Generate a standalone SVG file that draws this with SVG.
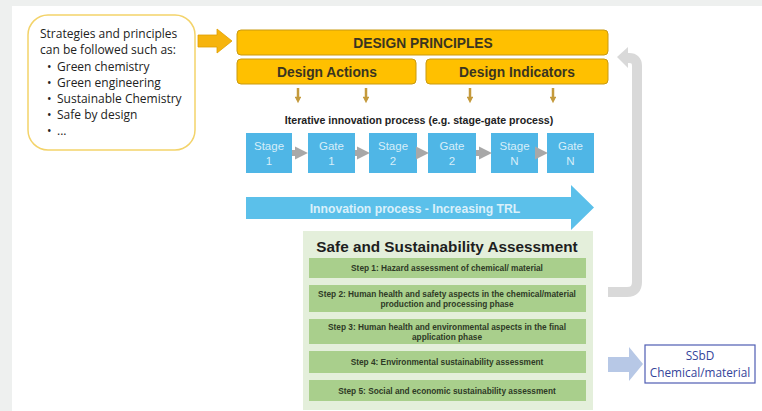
<svg xmlns="http://www.w3.org/2000/svg" width="762" height="411" viewBox="0 0 762 411">
  <defs>
    <style>
      .gold { fill: #ffc000; stroke: #c99a10; stroke-width: 1; }
      .gold-t { font-family: "Liberation Sans", Arial, sans-serif; font-weight: bold; font-size: 13.8px; fill: #3a3520; text-anchor: middle; }
      .blue { fill: #4fb6e6; }
      .blue-t { font-family: "Liberation Sans", Arial, sans-serif; font-size: 11.5px; fill: #d6eef9; text-anchor: middle; }
      .step { fill: #a9cf8c; }
      .step-t { font-family: "Liberation Sans", Arial, sans-serif; font-size: 8.3px; font-weight: bold; fill: #2e3a26; text-anchor: middle; }
      .list-t { font-family: "Open Sans", "Liberation Sans", sans-serif; font-size: 12px; fill: #222; }
      .flow { stroke: #a8a8a8; stroke-width: 6; fill: none; }
      .drop { stroke: #c49a3c; stroke-width: 2.5; fill: none; }
    </style>
    <marker id="grayhead" viewBox="0 0 10 10" refX="4" refY="5" markerWidth="2.2" markerHeight="2.6" orient="auto" markerUnits="strokeWidth">
      <path d="M0,0 L10,5 L0,10 z" fill="#a8a8a8"/>
    </marker>
    <marker id="goldhead" viewBox="0 0 10 10" refX="5" refY="5" markerWidth="3" markerHeight="2.6" orient="auto" markerUnits="strokeWidth">
      <path d="M0,0 L10,5 L0,10 z" fill="#c49a3c"/>
    </marker>
  </defs>

  <!-- page backdrop -->
  <rect x="0" y="0" width="762" height="411" fill="#eef0ef"/>
  <rect x="12" y="6" width="750" height="405" fill="#ffffff"/>

  <!-- strategies call-out -->
  <g id="strategies">
    <rect x="28" y="15" width="167" height="135" rx="20" ry="20" fill="#ffffff" stroke="#f3d36a" stroke-width="1.5"/>
    <text class="list-t" x="40" y="38">Strategies and principles</text>
    <text class="list-t" x="40" y="54">can be followed such as:</text>
    <text class="list-t" x="47" y="71">•</text><text class="list-t" x="57" y="71">Green chemistry</text>
    <text class="list-t" x="47" y="87">•</text><text class="list-t" x="57" y="87">Green engineering</text>
    <text class="list-t" x="47" y="103">•</text><text class="list-t" x="57" y="103">Sustainable Chemistry</text>
    <text class="list-t" x="47" y="119">•</text><text class="list-t" x="57" y="119">Safe by design</text>
    <text class="list-t" x="47" y="135">•</text><text class="list-t" x="57" y="135">...</text>
  </g>

  <!-- design principles block -->
  <g id="design-principles">
    <rect class="gold" x="237" y="30" width="371" height="25" rx="4"/>
    <text class="gold-t" x="423" y="48">DESIGN PRINCIPLES</text>
  </g>
  <g id="design-actions">
    <rect class="gold" x="237" y="59" width="179" height="25" rx="4"/>
    <text class="gold-t" x="327" y="77">Design Actions</text>
  </g>
  <g id="design-indicators">
    <rect class="gold" x="426" y="59" width="182" height="25" rx="4"/>
    <text class="gold-t" x="517" y="77">Design Indicators</text>
  </g>

  <text x="419" y="124" font-family="Liberation Sans, Arial, sans-serif" font-size="10.6" font-weight="bold" fill="#222" text-anchor="middle">Iterative innovation process (e.g. stage-gate process)</text>

  <!-- stage-gate sequence -->
  <g id="stage-1">
    <rect class="blue" x="246" y="133" width="46" height="40"/>
    <text class="blue-t" x="269" y="150">Stage</text>
    <text class="blue-t" x="269" y="165">1</text>
  </g>
  <g id="gate-1">
    <rect class="blue" x="308" y="133" width="47" height="40"/>
    <text class="blue-t" x="331.5" y="150">Gate</text>
    <text class="blue-t" x="331.5" y="165">1</text>
  </g>
  <g id="stage-2">
    <rect class="blue" x="369" y="133" width="48" height="40"/>
    <text class="blue-t" x="393" y="150">Stage</text>
    <text class="blue-t" x="393" y="165">2</text>
  </g>
  <g id="gate-2">
    <rect class="blue" x="428" y="133" width="48" height="40"/>
    <text class="blue-t" x="452" y="150">Gate</text>
    <text class="blue-t" x="452" y="165">2</text>
  </g>
  <g id="stage-n">
    <rect class="blue" x="491" y="133" width="47" height="40"/>
    <text class="blue-t" x="514.5" y="150">Stage</text>
    <text class="blue-t" x="514.5" y="165">N</text>
  </g>
  <g id="gate-n">
    <rect class="blue" x="547" y="133" width="47" height="40"/>
    <text class="blue-t" x="570.5" y="150">Gate</text>
    <text class="blue-t" x="570.5" y="165">N</text>
  </g>

  <!-- innovation process arrow -->
  <g id="innovation-arrow">
    <path d="M246,197 L571,197 L571,185 L594,207.5 L571,230 L571,219 L246,219 Z" fill="#5bc0ea"/>
    <text x="415" y="212.5" font-family="Liberation Sans, Arial, sans-serif" font-size="12.2" font-weight="bold" fill="#d9f0fa" text-anchor="middle">Innovation process - Increasing TRL</text>
  </g>

  <!-- assessment panel -->
  <g id="assessment">
    <rect x="303" y="231" width="290" height="179" fill="#e4efdb"/>
    <text x="447" y="252" font-family="Liberation Sans, Arial, sans-serif" font-size="15.3" font-weight="bold" fill="#1e1e1e" text-anchor="middle">Safe and Sustainability Assessment</text>
  </g>
  <g id="step-1">
    <rect class="step" x="309" y="258" width="277" height="20"/>
    <text class="step-t" x="447" y="271">Step 1: Hazard assessment of chemical/ material</text>
  </g>
  <g id="step-2">
    <rect class="step" x="309" y="285" width="277" height="27"/>
    <text class="step-t" x="447" y="296.5">Step 2: Human health and safety aspects in the chemical/material</text>
    <text class="step-t" x="447" y="306.5">production and processing phase</text>
  </g>
  <g id="step-3">
    <rect class="step" x="309" y="319" width="277" height="25"/>
    <text class="step-t" x="447" y="329.5">Step 3: Human health and environmental aspects in the final</text>
    <text class="step-t" x="447" y="339.5">application phase</text>
  </g>
  <g id="step-4">
    <rect class="step" x="309" y="351" width="277" height="22"/>
    <text class="step-t" x="447" y="365">Step 4: Environmental sustainability assessment</text>
  </g>
  <g id="step-5">
    <rect class="step" x="309" y="380" width="277" height="21"/>
    <text class="step-t" x="447" y="393.5">Step 5: Social and economic sustainability assessment</text>
  </g>

  <!-- outcome -->
  <g id="ssbd">
    <rect x="645" y="345" width="110" height="38" fill="#ffffff" stroke="#4f5db3" stroke-width="1.2"/>
    <text x="700" y="360" font-family="Open Sans, Liberation Sans, sans-serif" font-size="11.8" fill="#34449a" text-anchor="middle">SSbD</text>
    <text x="700" y="377" font-family="Open Sans, Liberation Sans, sans-serif" font-size="11.8" fill="#34449a" text-anchor="middle">Chemical/material</text>
  </g>

  <!-- connectors -->
  <g id="connectors">
    <!-- call-out into design principles -->
    <path d="M198,35 L217,35 L217,29 L232,41 L217,53 L217,47 L198,47 Z" fill="#f6b40e" stroke="#e0a000" stroke-width="0.8"/>
    <!-- design blocks down to the stage-gate process -->
    <path class="drop" d="M298,88 V100" marker-end="url(#goldhead)"/>
    <path class="drop" d="M366,88 V100" marker-end="url(#goldhead)"/>
    <path class="drop" d="M470,88 V100" marker-end="url(#goldhead)"/>
    <path class="drop" d="M553,88 V100" marker-end="url(#goldhead)"/>
    <!-- stage-gate links -->
    <path class="flow" d="M292,153 H300" marker-end="url(#grayhead)"/>
    <path class="flow" d="M355,153 H362" marker-end="url(#grayhead)"/>
    <path class="flow" d="M417,153 H421" marker-end="url(#grayhead)"/>
    <path class="flow" d="M476,153 H484" marker-end="url(#grayhead)"/>
    <path class="flow" d="M538,153 H540" marker-end="url(#grayhead)"/>
    <!-- feedback loop back to design principles -->
    <path d="M608,292 H627 Q637,292 637,282 V66 Q637,58 629,58 H626" fill="none" stroke="#d9d9d9" stroke-width="10"/>
    <path d="M617,57 L628,47 L628,68 Z" fill="#d9d9d9"/>
    <!-- assessment to outcome -->
    <path d="M608,357 L629,357 L629,347 L643,364 L629,381 L629,372 L608,372 Z" fill="#b7c8e6"/>
  </g>
</svg>
